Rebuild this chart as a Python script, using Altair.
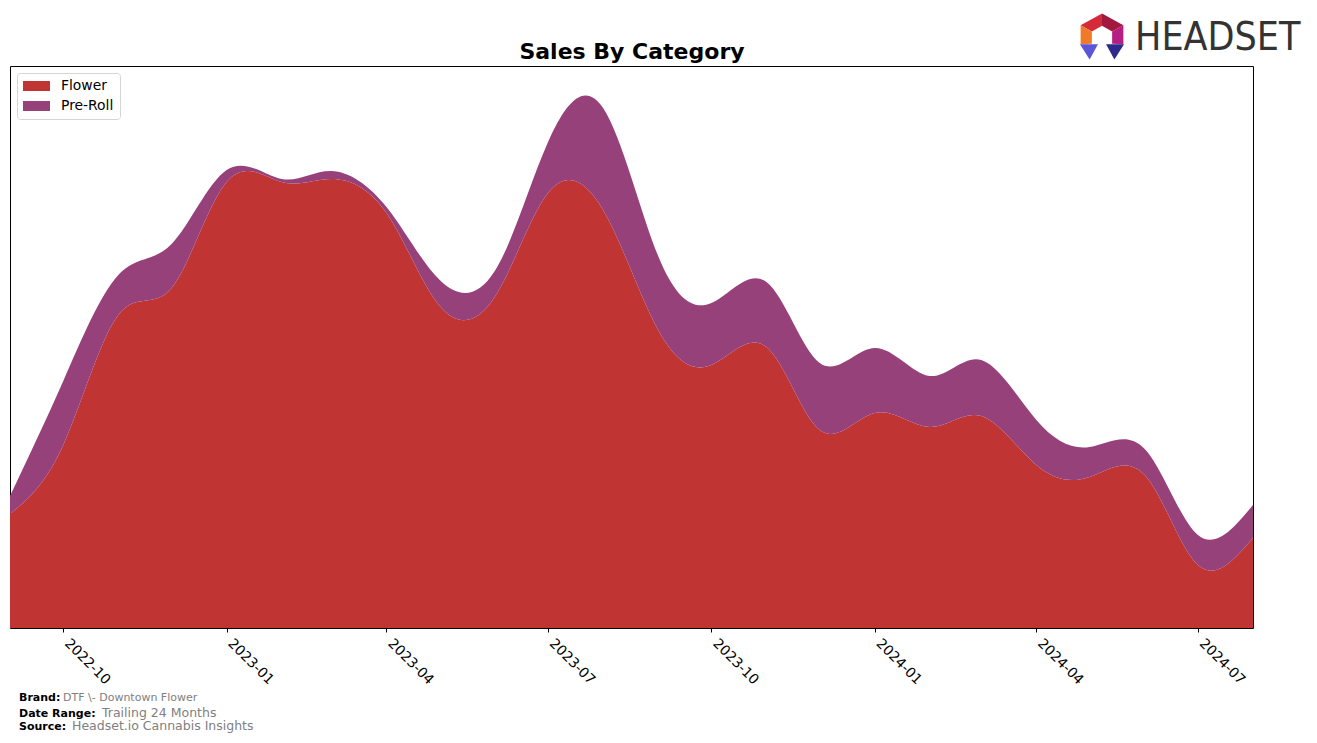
import altair as alt
import pandas as pd

months = ["2022-09-01", "2022-10-01", "2022-11-01", "2022-12-01",
          "2023-01-01", "2023-02-01", "2023-03-01", "2023-04-01",
          "2023-05-01", "2023-06-01", "2023-07-01", "2023-08-01",
          "2023-09-01", "2023-10-01", "2023-11-01", "2023-12-01",
          "2024-01-01", "2024-02-01", "2024-03-01", "2024-04-01",
          "2024-05-01", "2024-06-01", "2024-07-01", "2024-08-01"]
flower = [114, 183, 313, 340, 446, 446, 449, 415, 322, 331, 435, 418,
          298, 263, 281, 198, 215, 201, 212, 163, 151, 153, 63, 90]
preroll = [18, 64, 40, 44, 12, 3, 8, 6, 26, 26, 51, 102,
           74, 62, 65, 67, 65, 51, 56, 45, 30, 26, 30, 33]
categories = ["Flower", "Pre-Roll"]
colors = ["#c03434", "#97417a"]
tick_months = [(2022, 10), (2023, 1), (2023, 4), (2023, 7),
               (2023, 10), (2024, 1), (2024, 4), (2024, 7)]

rows = []
for m, f, p in zip(months, flower, preroll):
    rows.append({"month": m, "category": "Flower", "sales": f})
    rows.append({"month": m, "category": "Pre-Roll", "sales": p})
df = pd.DataFrame(rows)

W, H = 1243, 562
FONT = "DejaVu Sans"

legend_shape = "M-1,-0.714H2.857V0.714H-1Z"

area = alt.Chart(df).mark_area(interpolate="natural", opacity=1).encode(
    x=alt.X("month:T",
            scale=alt.Scale(type="utc", nice=False,
                            domain=[alt.DateTime(year=2022, month=9, date=1, utc=True),
                                    alt.DateTime(year=2024, month=8, date=1, utc=True)]),
            axis=alt.Axis(values=[alt.DateTime(year=y, month=mo, date=1, utc=True)
                                  for y, mo in tick_months],
                          format="%Y-%m", title=None, grid=False, domain=False,
                          ticks=True, tickSize=4, tickColor="black", tickWidth=1,
                          labelAngle=45, labelAlign="left", labelBaseline="top",
                          labelPadding=4, labelOffset=8, labelFont=FONT,
                          labelFontSize=13.9, labelColor="black",
                          labelOverlap=False, labelBound=False, labelFlush=False)),
    y=alt.Y("sales:Q", stack="zero",
            scale=alt.Scale(domain=[0, 562], nice=False, zero=True),
            axis=None),
    color=alt.Color("category:N",
                    scale=alt.Scale(domain=categories, range=colors),
                    legend=alt.Legend(orient="top-left", offset=7, padding=6,
                                      title=None, symbolType=legend_shape,
                                      symbolSize=196, symbolStrokeWidth=0,
                                      symbolOpacity=1,
                                      labelOffset=24, rowPadding=6,
                                      labelFont=FONT, labelFontSize=13.9,
                                      labelColor="black",
                                      strokeColor="#d5d5d5", fillColor="white",
                                      cornerRadius=3)),
    order=alt.Order("category:N", sort="ascending"),
)

one = pd.DataFrame({"k": [0]})


def txt(text, x, y, size, weight="normal", color="black", align="left",
        font=FONT, baseline="middle"):
    return alt.Chart(one).mark_text(
        text=text, font=font, fontSize=size, fontWeight=weight, color=color,
        align=align, baseline=baseline
    ).encode(x=alt.value(x), y=alt.value(y))


title = txt("Sales By Category", 622, -7, 22, weight="bold", align="center",
            baseline="alphabetic")

footer = [
    txt("Brand:", 9, 632, 11, weight="bold"),
    txt("DTF \\- Downtown Flower", 53, 632, 11, color="#808080"),
    txt("Date Range:", 9, 648, 11, weight="bold"),
    txt("Trailing 24 Months", 92, 647, 12.5, color="#808080"),
    txt("Source:", 9, 661, 11, weight="bold"),
    txt("Headset.io Cannabis Insights", 62, 660, 12.5, color="#808080"),
]

logo_text = txt("HEADSET", 1125, -28, 39, color="#333333",
                font="Liberation Sans Narrow, DejaVu Sans Condensed, Liberation Sans",
                align="left")

icon_parts = [
    ("M-0.95,-0.52L0,-1.05L0,-0.5L-0.45,-0.25Z", "#d42a3a"),
    ("M0,-1.05L0.95,-0.52L0.45,-0.25L0,-0.5Z", "#a3183f"),
    ("M0.95,-0.52L0.95,0.32L0.45,0.3L0.45,-0.25Z", "#b51e82"),
    ("M-0.95,-0.52L-0.45,-0.25L-0.45,0.3L-0.95,0.32Z", "#f07a28"),
    ("M-0.98,0.32L-0.18,0.32L-0.55,1.0Z", "#5d55d8"),
    ("M0.98,0.32L0.18,0.32L0.55,1.0Z", "#2d2a8c"),
]
icon = [
    alt.Chart(one).mark_point(shape=p, size=2025, filled=True, fill=c,
                              opacity=1, strokeWidth=0).encode(
        x=alt.value(1092), y=alt.value(-29))
    for p, c in icon_parts
]

chart = alt.layer(area, title, logo_text, *icon, *footer).properties(
    width=W, height=H,
    autosize=alt.AutoSizeParams(type="none"),
    padding={"left": 10, "top": 66, "right": 64, "bottom": 115},
    background="white",
).configure_view(stroke="black", strokeWidth=1)

chart.save("out.html", embed_options={"renderer": "svg", "actions": False})
